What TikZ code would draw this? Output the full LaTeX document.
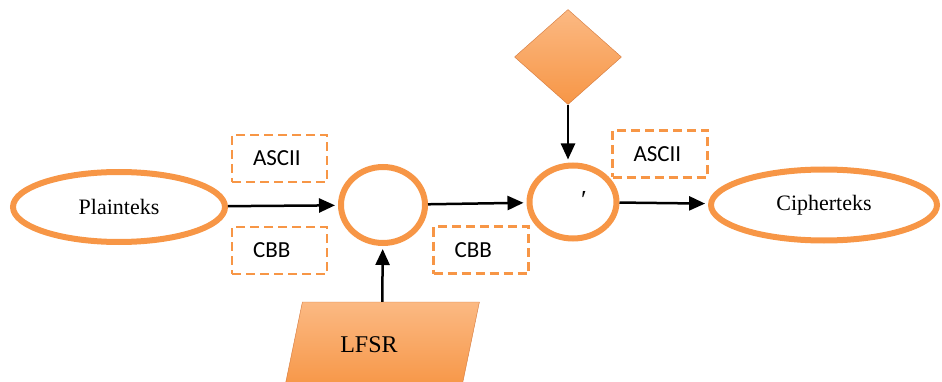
\documentclass[tikz,border=0pt]{standalone}
\usepackage{fontspec}
\setmainfont{Liberation Serif}
\newfontfamily\boxfont{Carlito}
\usetikzlibrary{shapes.geometric,arrows.meta,positioning}
\definecolor{accent}{HTML}{F79646}
\definecolor{accentlight}{HTML}{FBB983}
\definecolor{accentdark}{HTML}{D4773A}

\begin{document}
\begin{tikzpicture}[x=1pt,y=-1pt]
    \tikzset{oval node/.style = {ellipse, draw=accent, line width=6pt, inner sep=0pt, font=\fontsize{22}{26}\selectfont},
      note box/.style = {draw=accent, dash pattern=on 9pt off 5pt, line width=2.5pt, minimum height=47pt, text width=53pt, inner xsep=21pt, align=left, font=\boxfont\fontsize{23}{27}\selectfont},
      solid node/.style = {top color=accentlight, bottom color=accent, draw=accentdark, thin, inner sep=0pt},
      flow/.style = {line width=2.5pt, shorten >=3pt, -{Triangle[length=16pt,width=14pt]}}}
    \useasboundingbox (0,0) rectangle (942,382);
    \node[oval node, minimum width=212pt, minimum height=70pt] (plain) at (119,207) {Plainteks};
    \node[oval node, minimum width=84pt, minimum height=76pt] (mix) at (383,205) {};
    \node[oval node, minimum width=87pt, minimum height=73pt] (mixkey) at (573,202) {};
    \node[oval node, minimum width=226pt, minimum height=71pt] (cipher) at (824,205) {Cipherteks};
    \node[font=\fontsize{26}{30}\selectfont] at ([shift={(11,-2)}]mixkey) {′};
    %%
    \node[solid node, diamond, minimum width=107pt, minimum height=95pt] (key) at (568,57) {};
    \node[solid node, trapezium, trapezium left angle=60, trapezium right angle=120, trapezium stretches=true,
      minimum width=195pt, minimum height=86pt, font=\fontsize{24}{28}\selectfont] (lfsr) at (382,345) {LFSR\kern26pt};
    %%
    \node[note box] (ascii in) at (279.5,158.5) {ASCII};
    \node[note box] (cbb in) at (279.5,250.5) {CBB};
    \node[note box] (cbb mid) at (481,250) {CBB};
    \node[note box] (ascii out) at (660,154) {ASCII};
    %%
    \path[flow]
    (plain) edge (mix)
    (mix) edge (mixkey)
    (mixkey) edge (cipher)
    (lfsr) edge (mix)
    (key.south) edge (key.south |- mixkey.north)
   ;
\end{tikzpicture}
\end{document}
